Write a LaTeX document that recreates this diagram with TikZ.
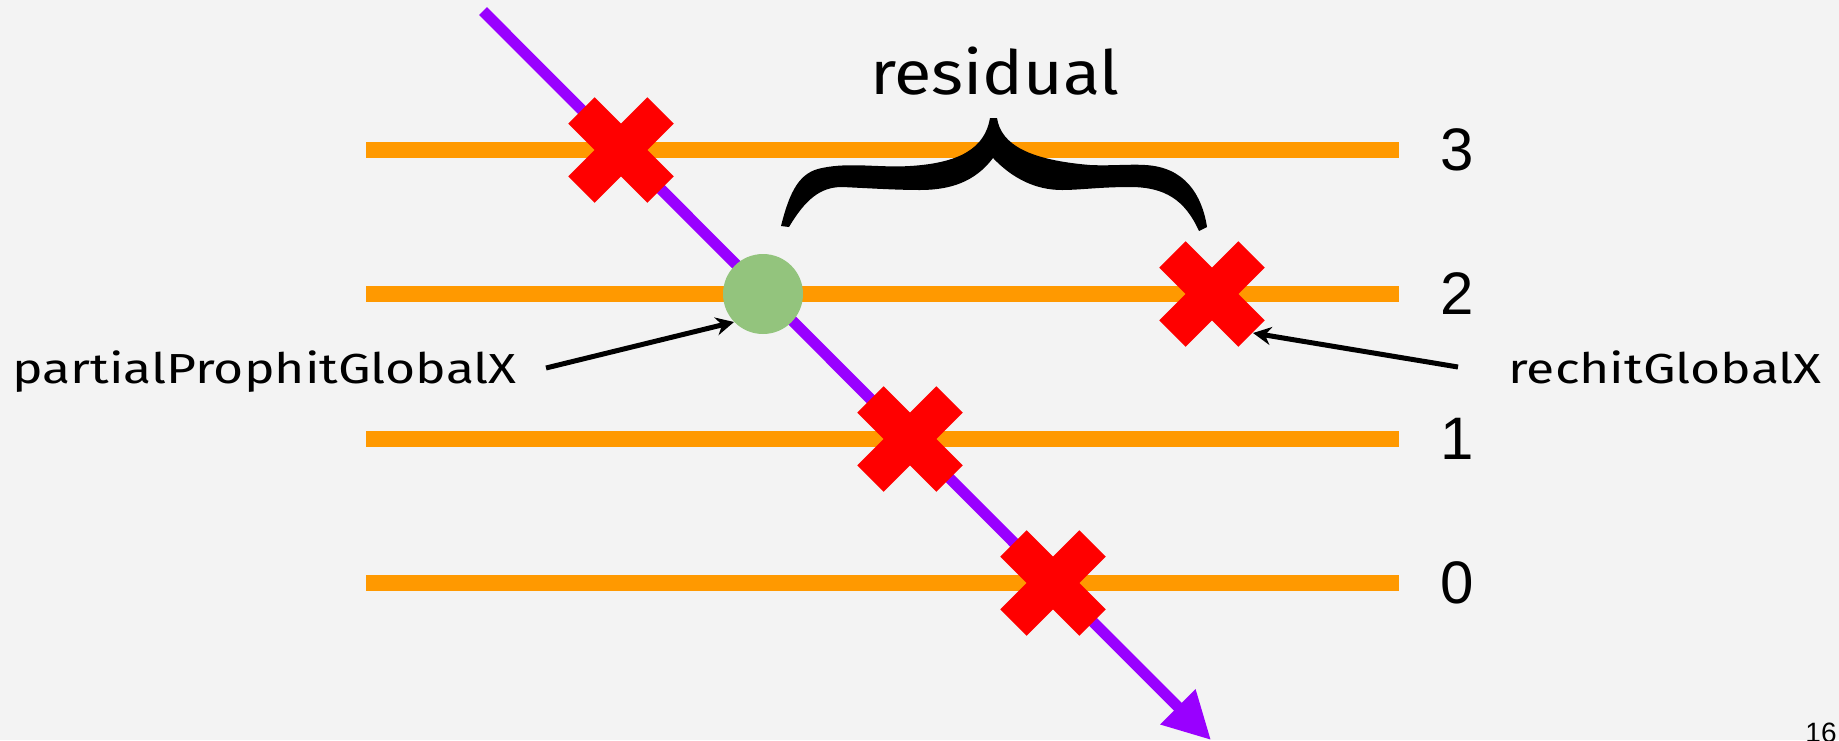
\documentclass[tikz,border=0pt]{standalone}
\usepackage{fontspec}
\setmainfont{Fira Sans}
\newfontfamily\digitfont{Liberation Sans}
\newfontfamily\lblfont[FakeStretch=1.23]{Fira Sans}
\newfontfamily\resfont[FakeStretch=1.12]{Fira Sans}
\usetikzlibrary{arrows.meta}
\definecolor{bgc}{RGB}{243,243,243}
\definecolor{lineorange}{RGB}{255,153,0}
\definecolor{trackpurple}{RGB}{153,0,255}
\definecolor{hitred}{RGB}{255,0,0}
\definecolor{propgreen}{RGB}{147,196,125}
\tikzset{
  layer/.style={draw=lineorange, line width=8pt},
  track/.style={draw=trackpurple, line width=5.5pt, -{Triangle[length=23.5pt,width=23.5pt]}},
  pointer/.style={draw=black, line width=2.5pt, -{Stealth[length=9pt,width=9pt]}},
  redx/.pic={
    \fill[hitred, rotate=45] (-56,-18.6) rectangle (56,18.6);
    \fill[hitred, rotate=-45] (-56,-18.6) rectangle (56,18.6);
  },
  digitlbl/.style={font=\digitfont\fontsize{30pt}{36pt}\selectfont, inner sep=0pt},
  namelbl/.style={font=\lblfont\fontsize{21pt}{26pt}\selectfont, inner sep=0pt},
}
\begin{document}
\begin{tikzpicture}[x=0.5pt, y=-0.5pt]
\useasboundingbox (0,0) rectangle (1839,740);
\fill[bgc] (0,0) rectangle (1839,740);
% layers
\foreach \n/\y in {3/150,2/294,1/439,0/583}{
  \coordinate (L\n a) at (366,\y);
  \coordinate (L\n b) at (1399,\y);
  \draw[layer] (L\n a) -- (L\n b);
  \node[digitlbl] (D\n) at (1457,\y) {\n};
}
% track
\coordinate (ts) at (483,11);
\coordinate (te) at (1211,740);
\draw[track] (ts) -- (te);
% propagated point
\node[circle, fill=propgreen, minimum size=40pt, inner sep=0pt] (pp) at (763,294) {};
% hits
\coordinate (h3) at (621,150);
\coordinate (h1) at (910,439);
\coordinate (h0) at (1053,583);
\coordinate (hr) at (1212,294);
\pic at (h3) {redx};
\pic at (h1) {redx};
\pic at (h0) {redx};
\pic at (hr) {redx};
% brace
\fill[black] (781,226) .. controls (790,190) and (800,172) .. (822,168)
 .. controls (850,162) and (880,168) .. (910,166)
 .. controls (960,163) and (985,148) .. (990,118)
 -- (997,118)
 .. controls (1001,145) and (1030,160) .. (1090,165)
 .. controls (1110,166) and (1130,164) .. (1145,165)
 .. controls (1185,167) and (1202,195) .. (1207,227)
 -- (1199,231)
 .. controls (1185,200) and (1165,187) .. (1130,187)
 .. controls (1100,187) and (1080,190) .. (1062,190)
 .. controls (1035,190) and (1012,178) .. (993,158)
 .. controls (975,182) and (950,190) .. (920,190)
 .. controls (895,190) and (865,188) .. (842,187)
 .. controls (820,187) and (805,200) .. (789,227) -- cycle;
\node[font=\resfont\fontsize{30.5pt}{36pt}\selectfont, inner sep=0pt, anchor=base] (res) at (995,94) {residual};
% labels
\node[namelbl, anchor=base west] (plbl) at (12,383) {partialProphitGlobalX};
\node[namelbl, anchor=base west] (rlbl) at (1508,383) {rechitGlobalX};
\coordinate (pa) at (546,368);
\coordinate (pb) at (734,322);
\coordinate (ra) at (1458,367);
\coordinate (rb) at (1253,333);
\draw[pointer] (pa) -- (pb);
\draw[pointer] (ra) -- (rb);
% slide number
\node[font=\digitfont\fontsize{14pt}{16pt}\selectfont, inner sep=0pt, anchor=base east] (pg) at (1837,742) {16};
\end{tikzpicture}
\end{document}
